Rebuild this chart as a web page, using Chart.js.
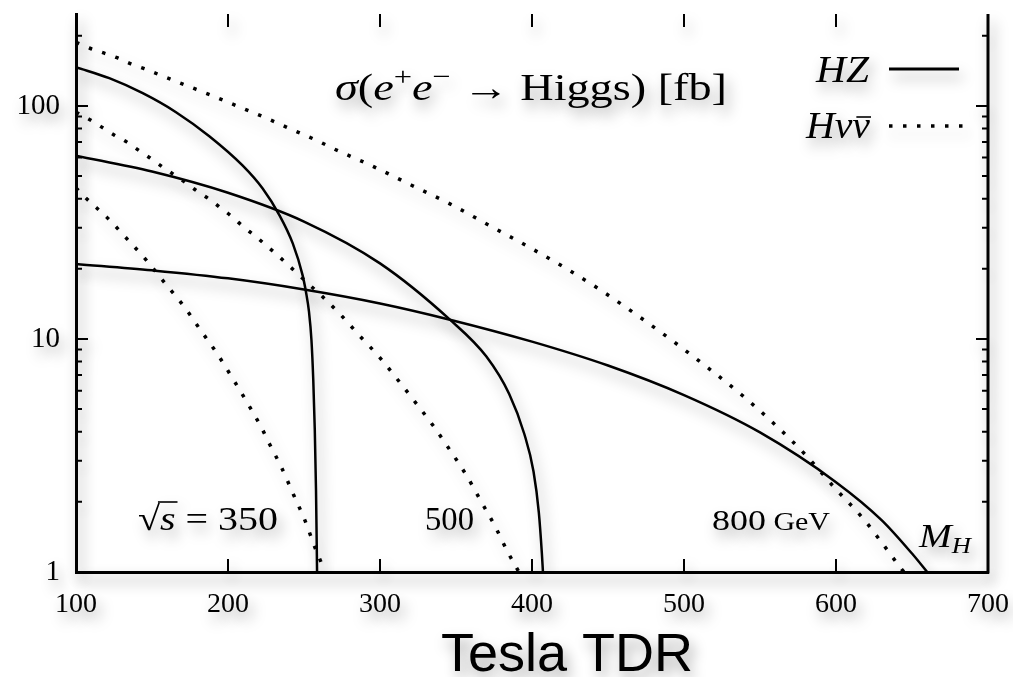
<!DOCTYPE html>
<html>
<head>
<meta charset="utf-8">
<title>Higgs production cross sections</title>
<script src="https://cdn.jsdelivr.net/npm/chart.js@4.4.1/dist/chart.umd.min.js"></script>
<style>
  html, body { margin: 0; padding: 0; background: #fff; }
</style>
</head>
<body>
<canvas id="sigma" width="1013" height="677"></canvas>
<script>
// Higgs mass M_H [GeV] and cross section [fb]
const hz350Mass   = [100, 121.9, 143.9, 165.8, 187.7, 209.7, 222.8, 233.8, 242.6, 249.1, 251.3, 253.3, 254.9, 256.1, 257.1, 257.9, 258.6];
const hz350Xsec   = [146.6, 131.5, 113.4, 94.0, 74.1, 55.4, 44.2, 34.0, 25.7, 18.75, 15.9, 13.06, 9.9, 6.67, 4.07, 2.25, 1.0];

const hz500Mass   = [100, 150, 200, 250, 300, 346, 370, 385, 395, 401, 404.5, 406.5, 407.2];
const hz500Xsec   = [61.2, 52.3, 42.4, 31.9, 21.1, 12.1, 8.4, 5.8, 3.9, 2.7, 1.8, 1.2, 1.0];

const hz800Mass   = [100, 150, 200, 250, 300, 346, 400, 450, 500, 550, 600, 630, 650, 660];
const hz800Xsec   = [21.0, 19.7, 18.2, 16.3, 14.2, 12.1, 9.74, 7.69, 5.74, 3.97, 2.43, 1.67, 1.20, 1.0];

const hnn350Mass  = [100, 106.6, 120.8, 134, 146.5, 159, 171, 182, 192.8, 203.3, 213.2, 222.4, 226.5, 235.3, 243.2, 250.7, 257.5, 261, 263.8];
const hnn350Xsec  = [44.5, 40.2, 33, 26.7, 21.7, 17.2, 13.8, 10.9, 8.66, 6.73, 5.26, 4.12, 3.63, 2.8, 2.14, 1.66, 1.26, 1.11, 1.0];

const hnn500Mass  = [100, 108.3, 116.4, 124.8, 132.9, 140.6, 148.7, 156.6, 172.4, 180.1, 188.2, 195.4, 203.1, 210.3, 217.8, 225.4, 232.2, 239.5, 253.5, 261.2, 274.1, 287.3, 300, 312.3, 324.1, 335.5, 346.5, 357, 366.3, 375.5, 384, 391.4];
const hnn500Xsec  = [94, 87.9, 81.5, 75.3, 70.3, 64.9, 59.8, 54.9, 46.7, 42.9, 39.6, 36.4, 33.3, 30.2, 27.7, 25.1, 23, 20.8, 17.1, 15.4, 12.7, 10.2, 8.3, 6.6, 5.26, 4.2, 3.3, 2.59, 2.02, 1.58, 1.22, 1.0];

const hnn800Mass  = [100, 109.2, 118.2, 127, 136.2, 144.9, 153.7, 171.7, 189.5, 207, 225, 242.1, 259.7, 268.4, 294.5, 320.4, 346, 371.5, 396.5, 421.7, 445.8, 469.5, 492.6, 515.6, 538, 559.4, 580, 599.3, 618.4, 630, 641.6, 644.7];
const hnn800Xsec  = [187.6, 176.8, 168.8, 161, 151.4, 144.5, 137, 123, 110.7, 99.3, 88.8, 79.1, 70.5, 66, 55.4, 45.8, 38, 30.8, 25.1, 20.2, 16.1, 12.6, 9.8, 7.53, 5.75, 4.32, 3.18, 2.29, 1.68, 1.34, 1.06, 1.0];

const xTicks = [100, 200, 300, 400, 500, 600, 700];
const yMajor = [1, 10, 100];
const yMax = 248;

const SERIF = '"Liberation Serif", "DejaVu Serif", serif';
const SHADOW = 'rgba(0,0,0,0.38)';

function pts(xs, ys) {
    return xs.map((x, i) => ({ x: x, y: ys[i] }));
}

function solid(label, xs, ys) {
    return {
        label: label, data: pts(xs, ys),
        borderColor: '#000', borderWidth: 2.5,
        pointRadius: 0, fill: false,
        cubicInterpolationMode: 'monotone'
    };
}

function dotted(label, xs, ys) {
    return {
        label: label, data: pts(xs, ys),
        borderColor: '#000', borderWidth: 3.5,
        borderDash: [3.5, 10.5], borderCapStyle: 'butt',
        pointRadius: 0, fill: false,
        cubicInterpolationMode: 'monotone'
    };
}

function setShadow(ctx) {
    ctx.shadowColor = SHADOW;
    ctx.shadowBlur = 14;
    ctx.shadowOffsetX = 4;
    ctx.shadowOffsetY = 8;
}

// no extra room for edge labels: the frame is placed by layout padding
function noEdgePadding(s) {
    s.paddingTop = 0; s.paddingBottom = 0;
    s.paddingLeft = 0; s.paddingRight = 0;
}

// draws text runs between x0 and x1 (stretched to fit), returns run extents
function drawRuns(ctx, runs, x0, x1, baseline) {
    let w = 0;
    runs.forEach(r => { ctx.font = r.font; r.w = ctx.measureText(r.t).width; w += r.w; });
    const sx = x1 ? (x1 - x0) / w : 1;
    const spans = [];
    let x = 0;
    ctx.save();
    ctx.translate(x0, baseline);
    ctx.scale(sx, 1);
    ctx.textBaseline = 'alphabetic';
    ctx.textAlign = 'left';
    runs.forEach(r => {
        ctx.font = r.font;
        ctx.fillText(r.t, x, r.dy || 0);
        spans.push([x0 + x * sx, x0 + (x + r.w) * sx]);
        x += r.w;
    });
    ctx.restore();
    return spans;
}

const decor = {
    id: 'decor',
    beforeDraw(chart) {
        setShadow(chart.ctx);
    },
    afterDraw(chart) {
        const ctx = chart.ctx;
        const a = chart.chartArea;
        const xs = chart.scales.x, ys = chart.scales.y;
        ctx.save();
        setShadow(ctx);
        ctx.strokeStyle = '#000';
        ctx.fillStyle = '#000';

        // right frame line
        ctx.lineWidth = 3;
        ctx.beginPath();
        ctx.moveTo(a.right, a.top);
        ctx.lineTo(a.right, a.bottom + 1.5);
        ctx.stroke();

        // inward ticks
        ctx.lineWidth = 2;
        ctx.beginPath();
        xTicks.slice(1, -1).forEach(v => {
            const px = xs.getPixelForValue(v);
            ctx.moveTo(px, a.bottom); ctx.lineTo(px, a.bottom - 13);
            ctx.moveTo(px, a.top);    ctx.lineTo(px, a.top + 13);
        });
        yMajor.forEach(d => {
            for (let m = 1; m <= 9; m++) {
                const v = d * m;
                if (v > yMax || v === 1) continue;
                const py = ys.getPixelForValue(v);
                const len = m === 1 ? 12 : 6;
                ctx.moveTo(a.left, py);  ctx.lineTo(a.left + len, py);
                ctx.moveTo(a.right, py); ctx.lineTo(a.right - len, py);
            }
        });
        ctx.stroke();

        // title inside the frame
        const it = s => 'italic ' + s + 'px ' + SERIF;
        const rm = s => s + 'px ' + SERIF;
        drawRuns(ctx, [
            { t: 'σ', font: it(37) },
            { t: '(', font: rm(37) },
            { t: 'e', font: it(37) },
            { t: '+', font: rm(26), dy: -15 },
            { t: 'e', font: it(37) },
            { t: '−', font: rm(26), dy: -15 },
            { t: ' → ', font: rm(37) },
            { t: 'Higgs) [fb]', font: rm(37) }
        ], 335, 727, 100);

        // legend
        drawRuns(ctx, [{ t: 'H', font: it(37) }, { t: 'Z', font: it(37) }], 816, 869, 82);
        const nu = drawRuns(ctx, [
            { t: 'H', font: it(37) }, { t: 'ν', font: it(37) }, { t: 'ν', font: it(37) }
        ], 806, 870, 138);
        ctx.lineWidth = 1.6;
        ctx.beginPath();
        ctx.moveTo(nu[2][0] + 4, 117); ctx.lineTo(nu[2][1] + 1, 117);
        ctx.stroke();

        ctx.lineWidth = 3;
        ctx.beginPath();
        ctx.moveTo(889, 69); ctx.lineTo(959, 69);
        ctx.stroke();
        ctx.lineWidth = 3.5;
        ctx.setLineDash([3.5, 10.5]);
        ctx.beginPath();
        ctx.moveTo(889, 126); ctx.lineTo(964, 126);
        ctx.stroke();
        ctx.setLineDash([]);

        // energy labels
        const rt = drawRuns(ctx, [
            { t: '√', font: rm(34) },
            { t: 's', font: it(34) },
            { t: ' = 350', font: rm(34) }
        ], 138, 278, 530);
        ctx.lineWidth = 1.6;
        ctx.beginPath();
        ctx.moveTo(rt[0][1] - 2, 502); ctx.lineTo(rt[1][1] + 2, 502);
        ctx.stroke();

        drawRuns(ctx, [{ t: '500', font: rm(34) }], 425, 474, 530);
        drawRuns(ctx, [{ t: '800', font: rm(30) }, { t: ' GeV', font: rm(25) }], 712, 830, 530);
        drawRuns(ctx, [{ t: 'M', font: it(34) }, { t: 'H', font: it(23), dy: 6 }], 919, 971, 547);

        // x axis caption
        ctx.font = '54px "Liberation Sans", Arial, sans-serif';
        ctx.textAlign = 'center';
        ctx.textBaseline = 'alphabetic';
        ctx.fillText('Tesla TDR', 567, 671);

        ctx.restore();
        ctx.shadowColor = 'rgba(0,0,0,0)';
    }
};

new Chart(document.getElementById('sigma').getContext('2d'), {
    type: 'line',
    data: {
        datasets: [
            solid('HZ 350', hz350Mass, hz350Xsec),
            solid('HZ 500', hz500Mass, hz500Xsec),
            solid('HZ 800', hz800Mass, hz800Xsec),
            dotted('Hνν 350', hnn350Mass, hnn350Xsec),
            dotted('Hνν 500', hnn500Mass, hnn500Xsec),
            dotted('Hνν 800', hnn800Mass, hnn800Xsec)
        ]
    },
    options: {
        responsive: false,
        animation: false,
        layout: { padding: { top: 14, right: 25, left: 0, bottom: 0 } },
        plugins: {
            legend: { display: false },
            tooltip: { enabled: false }
        },
        scales: {
            x: {
                type: 'linear',
                min: 100, max: 700,
                grid: { display: false, drawTicks: false },
                border: { display: true, width: 3, color: '#000' },
                afterBuildTicks: s => { s.ticks = xTicks.map(v => ({ value: v })); },
                ticks: {
                    color: '#000',
                    padding: 16,
                    maxRotation: 0,
                    font: { family: SERIF, size: 28 },
                    callback: v => String(v)
                },
                afterFit: s => { s.height = 105; noEdgePadding(s); }
            },
            y: {
                type: 'logarithmic',
                min: 1, max: yMax,
                grid: { display: false, drawTicks: false },
                border: { display: true, width: 3, color: '#000' },
                afterBuildTicks: s => { s.ticks = yMajor.map(v => ({ value: v })); },
                ticks: {
                    color: '#000',
                    padding: 16,
                    font: { family: SERIF, size: 29 },
                    callback: v => String(v)
                },
                afterFit: s => { s.width = 76; noEdgePadding(s); }
            }
        }
    },
    plugins: [decor]
});
</script>
</body>
</html>
